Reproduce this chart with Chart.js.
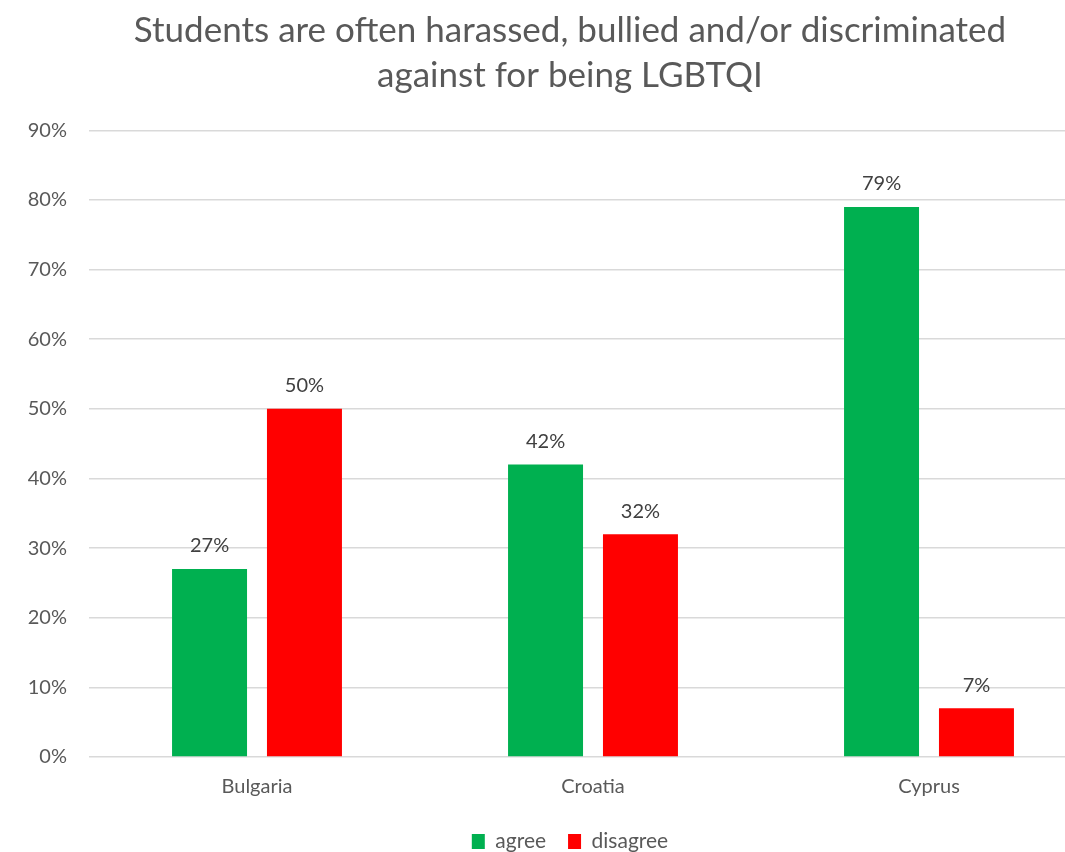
<!DOCTYPE html>
<html>
<head>
<meta charset="utf-8">
<script src="https://cdn.jsdelivr.net/npm/chart.js@4"></script>
<style>
  html, body { margin: 0; padding: 0; background: #fff; }
  body { width: 1065px; height: 852px; overflow: hidden; }
  #wrap { width: 1140px; height: 852px; }
</style>
</head>
<body>
<div id="wrap"><canvas id="myChart" width="1140" height="852"></canvas></div>
<script>
var countries = ['Bulgaria', 'Croatia', 'Cyprus'];
var agree = [27, 42, 79];
var disagree = [50, 32, 7];
var yTicks = [0, 10, 20, 30, 40, 50, 60, 70, 80, 90];

var FONT = 'Lato, "Open Sans", sans-serif';

// writes the value above each bar
var valueLabels = {
    id: 'valueLabels',
    afterDatasetsDraw: function (chart) {
        var ctx = chart.ctx;
        ctx.save();
        ctx.font = '20px ' + FONT;
        ctx.fillStyle = '#404040';
        ctx.textAlign = 'center';
        ctx.textBaseline = 'bottom';
        chart.data.datasets.forEach(function (ds, i) {
            chart.getDatasetMeta(i).data.forEach(function (bar, j) {
                ctx.fillText(ds.data[j] + '%', bar.x, bar.y - 13);
            });
        });
        ctx.restore();
    }
};

var ctx = document.getElementById('myChart').getContext('2d');
var myChart = new Chart(ctx, {
    type: 'bar',
    data: {
        labels: countries,
        datasets: [{
            label: 'agree',
            data: agree,
            backgroundColor: '#00B050',
            barPercentage: 0.79,
            categoryPercentage: 0.565
        }, {
            label: 'disagree',
            data: disagree,
            backgroundColor: '#FF0000',
            barPercentage: 0.79,
            categoryPercentage: 0.565
        }]
    },
    options: {
        responsive: false,
        animation: false,
        layout: { padding: { left: 0, right: 0, top: 8, bottom: -10 } },
        plugins: {
            title: {
                display: true,
                text: ['Students are often harassed, bullied and/or discriminated', 'against for being LGBTQI'],
                color: '#595959',
                font: { family: FONT, size: 35, weight: 'normal', lineHeight: 1.29 },
                padding: { top: 0, bottom: 32 }
            },
            legend: {
                position: 'bottom',
                labels: {
                    color: '#595959',
                    font: { family: FONT, size: 21 },
                    boxWidth: 13,
                    boxHeight: 15,
                    padding: 22
                }
            },
            tooltip: { enabled: false }
        },
        scales: {
            x: {
                grid: { display: false },
                border: { display: false },
                ticks: { color: '#595959', font: { family: FONT, size: 20 }, padding: 10 }
            },
            y: {
                min: 0,
                max: 90,
                afterBuildTicks: function (axis) {
                    axis.ticks = yTicks.map(function (v) { return { value: v }; });
                },
                afterFit: function (axis) { axis.width = 89; },
                grid: { color: '#D9D9D9', lineWidth: 1.5, drawTicks: false },
                border: { display: false },
                ticks: {
                    color: '#595959',
                    font: { family: FONT, size: 20 },
                    padding: 22,
                    callback: function (v) { return v + '%'; }
                }
            },
            // empty margin axis on the right side of the plot
            yRight: {
                position: 'right',
                min: 0,
                max: 90,
                afterFit: function (axis) { axis.width = 43; },
                grid: { display: false },
                border: { display: false },
                ticks: { display: false }
            }
        }
    },
    plugins: [valueLabels]
});
</script>
</body>
</html>
